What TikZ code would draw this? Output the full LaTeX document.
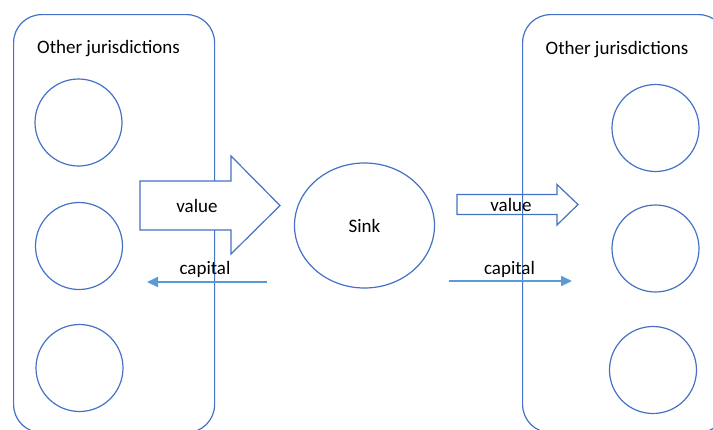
\documentclass[tikz,border=0pt]{standalone}
\usepackage{fontspec}
\setmainfont{Carlito}
\usetikzlibrary{arrows.meta,shapes.geometric}
\definecolor{outline}{HTML}{4472C4}
\definecolor{flow}{HTML}{5B9BD5}
\begin{document}
\begin{tikzpicture}[x=1pt,y=-1pt,
  every node/.style={font=\fontsize{19}{23}\selectfont, inner sep=0pt},
  region/.style={draw=outline, line width=1.2pt, rounded corners=28pt,
    anchor=north west},
  member/.style={circle, draw=outline, line width=1.2pt, minimum size=87pt},
  sinknode/.style={ellipse, draw=outline, line width=1.2pt,
    minimum width=140pt, minimum height=125pt},
  blockarrow/.style={draw=outline, line width=1.2pt, line join=miter},
  flowarrow/.style={draw=flow, line width=2.2pt,
    -{Triangle[length=11pt,width=10pt]}},
  caption/.style={anchor=base}]
  \path[use as bounding box] (0,0) rectangle (713,429);
  \clip (0,0) rectangle (713,429);

  % jurisdiction groups (running past the lower edge)
  \node[region, minimum width=201pt, minimum height=418pt] (leftgroup) at (13,14) {};
  \node[region, minimum width=204pt, minimum height=418pt] (rightgroup) at (522,14) {};

  \node[caption] (lefttitle) at (108.5,53.5) {Other jurisdictions};
  \node[caption] (righttitle) at (617,54) {Other jurisdictions};

  % members of each group
  \node[member] (l1) at (78.5,122.5) {};
  \node[member] (l2) at (79,246) {};
  \node[member] (l3) at (79.5,368) {};
  \node[member] (r1) at (655.5,128) {};
  \node[member] (r2) at (655.5,248.5) {};
  \node[member] (r3) at (653,370) {};

  % the sink
  \node[sinknode] (sink) at (364.5,225.5) {Sink};

  % value flowing into the sink
  \draw[blockarrow, fill=white] (140,181) -- (231,181) -- (231,156) -- (280,205.5)
    -- (231,254) -- (231,230) -- (140,230) -- cycle;
  \node[caption] (valuein) at (197,212.3) {value};

  % value flowing out of the sink
  \draw[blockarrow] (457,194.5) -- (557,194.5) -- (557,184.5) -- (578,204.5)
    -- (557,225) -- (557,214.5) -- (457,214.5) -- cycle;
  \node[caption] (valueout) at (511,211.7) {value};

  % capital flows
  \coordinate (capinstart) at (267,282);
  \coordinate (capinend) at (147,282);
  \draw[flowarrow] (capinstart) -- (capinend);
  \node[caption] (capitalin) at (205,274.5) {capital};

  \coordinate (capoutstart) at (449,281);
  \coordinate (capoutend) at (572,281);
  \draw[flowarrow] (capoutstart) -- (capoutend);
  \node[caption] (capitalout) at (509.5,274) {capital};
\end{tikzpicture}
\end{document}
